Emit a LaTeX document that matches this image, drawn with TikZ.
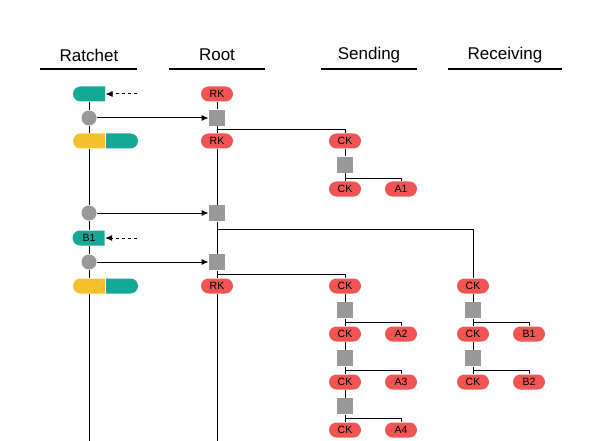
\documentclass[tikz,border=0pt]{standalone}
\usepackage{fontspec}
\setmainfont{Liberation Sans}
\usetikzlibrary{shapes.misc,arrows.meta}
\definecolor{keyred}{HTML}{F25454}
\definecolor{keyteal}{HTML}{14A896}
\definecolor{keyyellow}{HTML}{F4C22F}
\definecolor{keygray}{HTML}{999999}
\begin{document}
\begin{tikzpicture}[x=1pt,y=-1pt,line width=1pt,
  pill/.style={rounded rectangle,fill=keyred,minimum width=32pt,minimum height=15pt,inner sep=0pt,font=\fontsize{10.5}{12}\selectfont},
  halfl/.style={rounded rectangle,rounded rectangle right arc=none,minimum width=32pt,minimum height=15pt,inner sep=0pt,font=\fontsize{10.5}{12}\selectfont},
  halfr/.style={rounded rectangle,rounded rectangle left arc=none,minimum width=32pt,minimum height=15pt,inner sep=0pt},
  kdf/.style={fill=keygray,minimum size=16pt,inner sep=0pt},
  dh/.style={circle,fill=keygray,minimum size=15pt,inner sep=0pt},
  head/.style={font=\fontsize{17}{20}\selectfont},
  arr/.style={-{Latex[length=7pt,width=6pt]}}]
\useasboundingbox (0,0) rectangle (608,441);
% headers
\node[head] at (89,55) {Ratchet};
\node[head] at (217,55) {Root};
\node[head] at (369,55) {Sending};
\node[head] at (505,55) {Receiving};
\draw[line width=1.6pt] (40,69) -- (137,69);
\draw[line width=1.6pt] (169,69) -- (265,69);
\draw[line width=1.6pt] (321,69) -- (417,69);
\draw[line width=1.6pt] (448,69) -- (562,69);
% ratchet column
\node[halfl,fill=keyteal] (t1) at (89,94) {};
\node[dh] (c1) at (89,118) {};
\node[halfl,fill=keyyellow] (y1) at (89,141) {};
\node[halfr,fill=keyteal,anchor=west] (p1) at (y1.east) {};
\node[dh] (c2) at (89,213) {};
\node[halfl,fill=keyteal] (b1) at (89,238) {B1};
\node[dh] (c3) at (89,262) {};
\node[halfl,fill=keyyellow] (y2) at (89,286) {};
\node[halfr,fill=keyteal,anchor=west] (p2) at (y2.east) {};
\coordinate (rend) at (89,441);
\coordinate (in1) at (137,94);
\coordinate (in2) at (137,238);
\draw (t1.south) -- (c1.north);
\draw (c1.south) -- (y1.north);
\draw (y1.south) -- (c2.north);
\draw (c2.south) -- (b1.north);
\draw (b1.south) -- (c3.north);
\draw (c3.south) -- (y2.north);
\draw (y2.south) -- (rend);
\draw[arr,dashed] (in1) -- (t1.east);
\draw[arr,dashed] (in2) -- (b1.east);
% root column
\node[pill] (rk1) at (217,94) {RK};
\node[kdf] (r1) at (217,118) {};
\node[pill] (rk2) at (217,141) {RK};
\node[kdf] (r2) at (217,213) {};
\node[kdf] (r3) at (217,262) {};
\node[pill] (rk3) at (217,286) {RK};
\coordinate (kend) at (217,441);
\draw (rk1.south) -- (r1.north);
\draw (r1.south) -- (rk2.north);
\draw (rk2.south) -- (r2.north);
\draw (r2.south) -- (r3.north);
\draw (r3.south) -- (rk3.north);
\draw (rk3.south) -- (kend);
\draw[arr] (c1) -- (r1);
\draw[arr] (c2) -- (r2);
\draw[arr] (c3) -- (r3);
% first sending chain
\node[pill] (sa0) at (345,141) {CK};
\node[kdf] (sa1) at (345,165) {};
\node[pill] (sa2) at (345,189) {CK};
\node[pill] (ka1) at (401,189) {A1};
\draw ([yshift=-3pt]r1.south) -| (sa0.north);
\draw (sa0.south) -- (sa1.north);
\draw (sa1.south) -- (sa2.north);
\draw ([yshift=-5pt]sa1.south) -| (ka1.north);
% second sending chain
\node[pill] (sb0) at (345,286) {CK};
\node[kdf] (sb1) at (345,310) {};
\node[pill] (sb2) at (345,334) {CK};
\node[pill] (ka2) at (401,334) {A2};
\node[kdf] (sb3) at (345,358) {};
\node[pill] (sb4) at (345,382) {CK};
\node[pill] (ka3) at (401,382) {A3};
\node[kdf] (sb5) at (345,406) {};
\node[pill] (sb6) at (345,430) {CK};
\node[pill] (ka4) at (401,430) {A4};
\draw ([yshift=-4pt]r3.south) -| (sb0.north);
\draw (sb0.south) -- (sb1.north);
\draw (sb1.south) -- (sb2.north);
\draw (sb2.south) -- (sb3.north);
\draw (sb3.south) -- (sb4.north);
\draw (sb4.south) -- (sb5.north);
\draw (sb5.south) -- (sb6.north);
\draw ([yshift=-4pt]sb1.south) -| (ka2.north);
\draw ([yshift=-4pt]sb3.south) -| (ka3.north);
\draw ([yshift=-4pt]sb5.south) -| (ka4.north);
% receiving chain
\node[pill] (rc0) at (473,286) {CK};
\node[kdf] (rc1) at (473,310) {};
\node[pill] (rc2) at (473,334) {CK};
\node[pill] (kb1) at (529,334) {B1};
\node[kdf] (rc3) at (473,358) {};
\node[pill] (rc4) at (473,382) {CK};
\node[pill] (kb2) at (529,382) {B2};
\draw ([yshift=-8pt]r2.south) -| (rc0.north);
\draw (rc0.south) -- (rc1.north);
\draw (rc1.south) -- (rc2.north);
\draw (rc2.south) -- (rc3.north);
\draw (rc3.south) -- (rc4.north);
\draw ([yshift=-4pt]rc1.south) -| (kb1.north);
\draw ([yshift=-4pt]rc3.south) -| (kb2.north);
\end{tikzpicture}
\end{document}
